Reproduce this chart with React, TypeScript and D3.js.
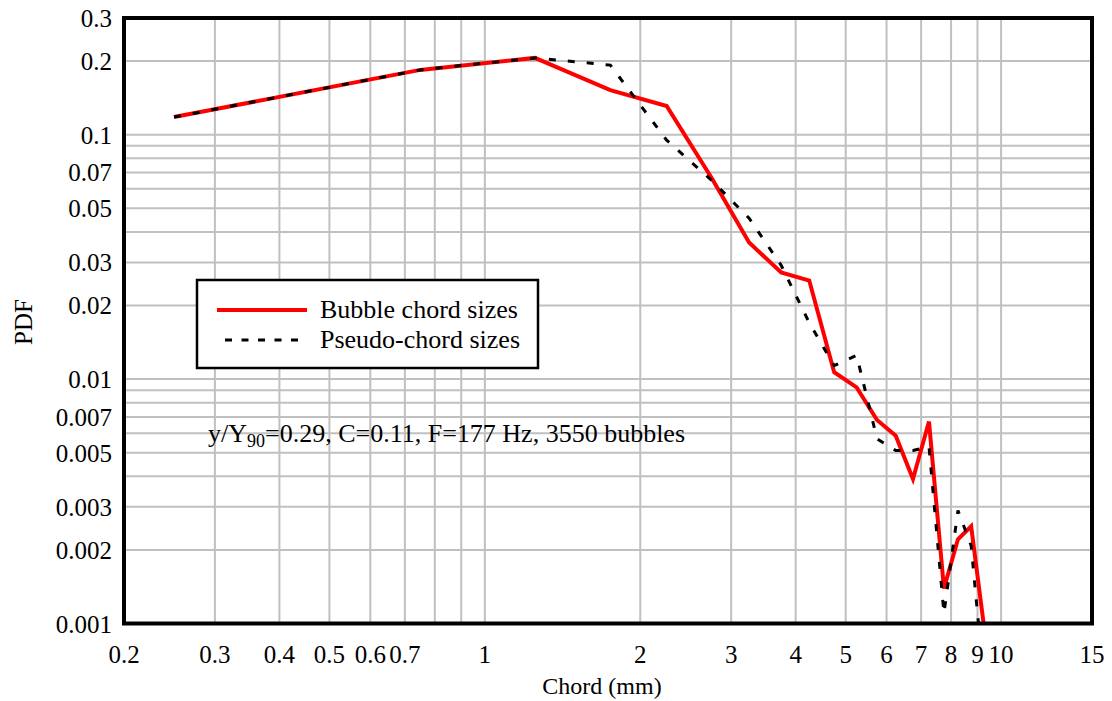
import React from "react";
import * as d3 from "d3";

// ---- data ----
const chordBins = [0.25, 0.75, 1.25, 1.75, 2.25, 2.75, 3.25, 3.75, 4.25, 4.75, 5.25, 5.75, 6.25, 6.75, 7.25, 7.75, 8.25, 8.75, 9.25];
const bubblePdf = [0.118, 0.184, 0.206, 0.152, 0.131, 0.0665, 0.0362, 0.0273, 0.0253, 0.01066, 0.00925, 0.0068, 0.00586, 0.0039, 0.0067, 0.00139, 0.00221, 0.0025, 0.001];
const pseudoPdf = [0.118, 0.184, 0.206, 0.1925, 0.0949, 0.065, 0.0455, 0.0292, 0.017, 0.01135, 0.0125, 0.0057, 0.0051, 0.0051, 0.0053, 0.0011, 0.0029, 0.00208, 0.0006];

const xTickLabels = [0.2, 0.3, 0.4, 0.5, 0.6, 0.7, 1, 2, 3, 4, 5, 6, 7, 8, 9, 10, 15];
const yTickLabels = [0.3, 0.2, 0.1, 0.07, 0.05, 0.03, 0.02, 0.01, 0.007, 0.005, 0.003, 0.002, 0.001];
const xGrid = [0.3, 0.4, 0.5, 0.6, 0.7, 0.8, 0.9, 1, 2, 3, 4, 5, 6, 7, 8, 9, 10];
const yGrid = [0.2, 0.1, 0.09, 0.08, 0.07, 0.06, 0.05, 0.04, 0.03, 0.02, 0.01, 0.009, 0.008, 0.007, 0.006, 0.005, 0.004, 0.003, 0.002];

const seriesNames = ["Bubble chord sizes", "Pseudo-chord sizes"];

const W = 1112;
const H = 701;
const L = 124, R = 1092, T = 18, B = 623.5;
const FONT = "Liberation Serif";

export default function App() {
  const x = d3.scaleLog().domain([0.2, 15]).range([L, R]);
  const y = d3.scaleLog().domain([0.001, 0.3]).range([B, T]);
  const line = d3
    .line<[number, number]>()
    .x((d) => x(d[0]))
    .y((d) => y(d[1]));
  const bubble = line(chordBins.map((c, i) => [c, bubblePdf[i]]) as [number, number][]) || "";
  const pseudo = line(chordBins.map((c, i) => [c, pseudoPdf[i]]) as [number, number][]) || "";
  const ts = { fontFamily: FONT };

  return (
    <svg
      width={W}
      height={H}
      style={{ position: "absolute", left: 0, top: 0, background: "#fff", fontFamily: FONT }}
    >
      <defs>
        <clipPath id="plotClip">
          <rect x={L} y={T} width={R - L} height={B - T} />
        </clipPath>
      </defs>
      <rect x={0} y={0} width={W} height={H} fill="#fff" />
      {/* grid */}
      <g stroke="#c0c0c0" strokeWidth={2}>
        {yGrid.map((v) => (
          <line key={"gy" + v} x1={L} x2={R} y1={y(v)} y2={y(v)} />
        ))}
        {xGrid.map((v) => (
          <line key={"gx" + v} x1={x(v)} x2={x(v)} y1={T} y2={B} />
        ))}
      </g>
      {/* series */}
      <g clipPath="url(#plotClip)" fill="none">
        <path d={bubble} stroke="#ff0000" strokeWidth={4} strokeLinejoin="miter" />
        <path d={pseudo} stroke="#000" strokeWidth={3} strokeDasharray="7 12" />
      </g>
      {/* frame */}
      <rect x={L} y={T} width={R - L} height={B - T} fill="none" stroke="#000" strokeWidth={4} />
      {/* y tick labels */}
      <g fontSize={25} textAnchor="end" fill="#000" style={ts}>
        {yTickLabels.map((v) => (
          <text key={"yl" + v} x={112} y={y(v) + 9} style={ts}>
            {String(v)}
          </text>
        ))}
      </g>
      {/* x tick labels */}
      <g fontSize={25} textAnchor="middle" fill="#000" style={ts}>
        {xTickLabels.map((v) => (
          <text key={"xl" + v} x={x(v)} y={663} style={ts}>
            {String(v)}
          </text>
        ))}
      </g>
      {/* axis titles */}
      <text x={602} y={694} fontSize={24} textAnchor="middle" style={ts}>
        Chord (mm)
      </text>
      <text transform="translate(32,322) rotate(-90)" fontSize={25} textAnchor="middle" style={ts}>
        PDF
      </text>
      {/* legend */}
      <rect x={197} y={280} width={341} height={88} fill="#fff" stroke="#000" strokeWidth={2.5} />
      <line x1={217} x2={307} y1={310} y2={310} stroke="#ff0000" strokeWidth={4} />
      <line x1={225} x2={307} y1={340} y2={340} stroke="#000" strokeWidth={3} strokeDasharray="7 9.5" />
      <text x={320} y={318} fontSize={26} style={ts}>
        {seriesNames[0]}
      </text>
      <text x={320} y={348} fontSize={26} style={ts}>
        {seriesNames[1]}
      </text>
      {/* annotation */}
      <text x={208} y={442} fontSize={26} style={ts}>
        y/Y
        <tspan fontSize={18} dy={5}>90</tspan>
        <tspan dy={-5}>=0.29, C=0.11, F=177 Hz, 3550 bubbles</tspan>
      </text>
    </svg>
  );
}
